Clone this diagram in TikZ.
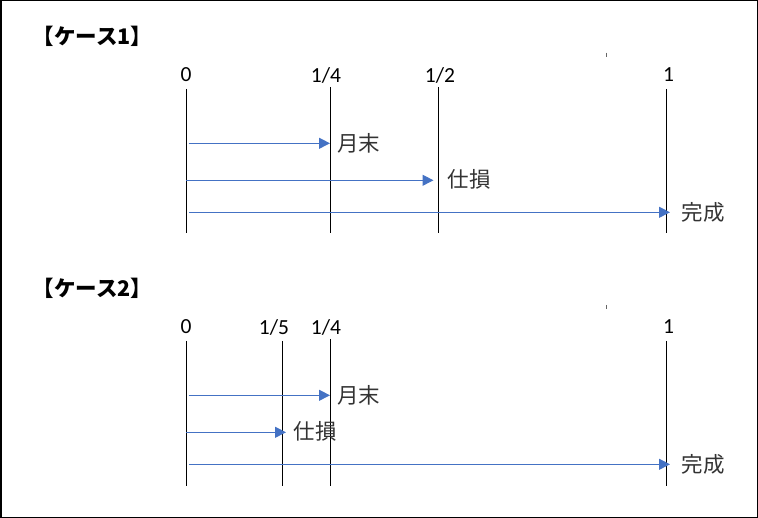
\documentclass[tikz,border=0pt]{standalone}
\usepackage{fontspec}
\setmainfont{Carlito}
\newfontfamily\jp{Noto Sans CJK JP}
\usetikzlibrary{arrows.meta}
\definecolor{pfeilblau}{HTML}{4472C4}
\tikzset{
  zeit/.style={black, line width=1pt},
  pfeil/.style={pfeilblau, line width=1pt, -{Triangle[length=11pt,width=11pt]}},
  marke/.style={font=\fontsize{21.5}{26}\selectfont, inner sep=0pt},
  ereignis/.style={font=\jp\fontsize{21.5}{26}\selectfont, text=black!80, anchor=west, inner sep=0pt},
  titel/.style={font=\jp\bfseries\fontsize{21.5}{26}\selectfont, anchor=west, inner sep=0pt}
}
\begin{document}
\begin{tikzpicture}[x=1pt,y=-1pt]
		\useasboundingbox (0,0) rectangle (758,518);
		\draw [line width=1.5pt] (0.75,0.75) rectangle (757.25,517.25);
		% Fall 1
		\node [titel] (titel1) at (32.5,36) {【ケース1】};
		\node [marke] (null1) at (186,75) {0};
		\node [marke] (viertel1) at (326,75) {1/4};
		\node [marke] (halb1) at (440,75) {1/2};
		\node [marke] (eins1) at (668.5,75) {1};
		\coordinate (null1o) at (186,89);   \coordinate (null1u) at (186,233);
		\coordinate (viertel1o) at (330,87); \coordinate (viertel1u) at (330,233);
		\coordinate (halb1o) at (438.3,87); \coordinate (halb1u) at (438.3,233);
		\coordinate (eins1o) at (666,89);   \coordinate (eins1u) at (666,233);
		\draw [zeit] (null1o)--(null1u);
		\draw [zeit] (viertel1o)--(viertel1u);
		\draw [zeit] (halb1o)--(halb1u);
		\draw [zeit] (eins1o)--(eins1u);
		\coordinate (monat1a) at (188.7,143.3); \coordinate (monat1b) at (330,143.3);
		\coordinate (verlust1a) at (186,180.3); \coordinate (verlust1b) at (433.5,180.3);
		\coordinate (fertig1a) at (189,212.3);  \coordinate (fertig1b) at (670,212.3);
		\draw [pfeil] (monat1a)--(monat1b);
		\draw [pfeil] (verlust1a)--(verlust1b);
		\draw [pfeil] (fertig1a)--(fertig1b);
		\node [ereignis] (monat1) at (337,143.3) {月末};
		\node [ereignis] (verlust1) at (447.5,179) {仕損};
		\node [ereignis] (fertig1) at (681.5,212) {完成};
		\draw [black!60, line width=0.8pt] (606.5,52.7)--(606.5,56.7);
		% Fall 2
		\node [titel] (titel2) at (32.5,288) {【ケース2】};
		\node [marke] (null2) at (186,327) {0};
		\node [marke] (fuenftel2) at (274,327) {1/5};
		\node [marke] (viertel2) at (326,327) {1/4};
		\node [marke] (eins2) at (668.5,327) {1};
		\coordinate (null2o) at (186,341);     \coordinate (null2u) at (186,486);
		\coordinate (fuenftel2o) at (282.3,341); \coordinate (fuenftel2u) at (282.3,486);
		\coordinate (viertel2o) at (330,339);  \coordinate (viertel2u) at (330,486);
		\coordinate (eins2o) at (666,341);     \coordinate (eins2u) at (666,486);
		\draw [zeit] (null2o)--(null2u);
		\draw [zeit] (fuenftel2o)--(fuenftel2u);
		\draw [zeit] (viertel2o)--(viertel2u);
		\draw [zeit] (eins2o)--(eins2u);
		\coordinate (monat2a) at (188.7,395.3); \coordinate (monat2b) at (330,395.3);
		\coordinate (verlust2a) at (186,432.3); \coordinate (verlust2b) at (286,432.3);
		\coordinate (fertig2a) at (189,464.3);  \coordinate (fertig2b) at (670,464.3);
		\draw [pfeil] (monat2a)--(monat2b);
		\draw [pfeil] (verlust2a)--(verlust2b);
		\draw [pfeil] (fertig2a)--(fertig2b);
		\node [ereignis] (monat2) at (337,395.3) {月末};
		\node [ereignis] (verlust2) at (293.5,431) {仕損};
		\node [ereignis] (fertig2) at (681.5,464) {完成};
		\draw [black!60, line width=0.8pt] (606,305)--(606,309);
	\end{tikzpicture}
\end{document}
